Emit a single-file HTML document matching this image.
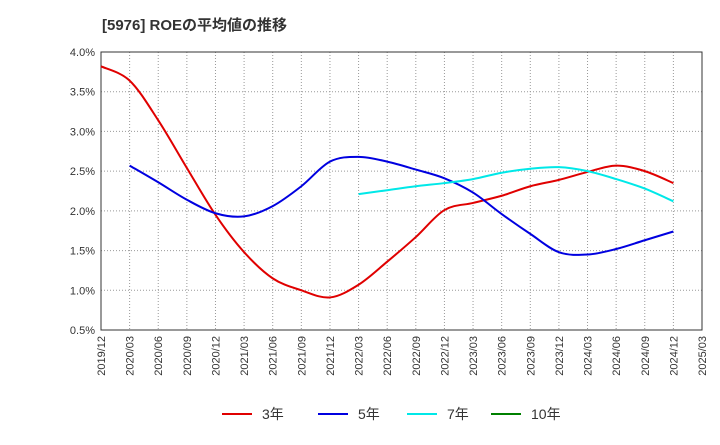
<!DOCTYPE html>
<html><head><meta charset="utf-8"><style>
body{margin:0;background:#fff;font-family:"Liberation Sans","Noto Sans CJK JP",sans-serif;}
svg text{font-family:"Liberation Sans","Noto Sans CJK JP",sans-serif;}
</style></head><body>
<svg id="c" width="720" height="440">
<text x="102" y="30" font-size="15" font-weight="bold" fill="#333">[5976]  ROEの平均値の推移</text>
<g id="grid"></g><g id="axes"></g><g id="series"></g><g id="legend"></g>
</svg>
<script>
const categories=["2019/12","2020/03","2020/06","2020/09","2020/12","2021/03","2021/06","2021/09","2021/12","2022/03","2022/06","2022/09","2022/12","2023/03","2023/06","2023/09","2023/12","2024/03","2024/06","2024/09","2024/12","2025/03"];
const yTicks=[0.5,1.0,1.5,2.0,2.5,3.0,3.5,4.0];
const s3=[3.82,3.64,3.14,2.54,1.95,1.48,1.15,1.0,0.91,1.07,1.36,1.67,2.01,2.10,2.19,2.31,2.39,2.49,2.57,2.50,2.35];
const s5=[null,2.57,2.36,2.14,1.97,1.93,2.06,2.31,2.62,2.68,2.62,2.52,2.41,2.23,1.96,1.71,1.48,1.45,1.52,1.63,1.74];
const s7=[null,null,null,null,null,null,null,null,null,2.21,2.26,2.31,2.35,2.40,2.48,2.53,2.55,2.50,2.40,2.28,2.12];
const s10=[];
const NS="http://www.w3.org/2000/svg";
const L=101,R=702,T=52,B=330;
const x=i=>L+(R-L)*i/(categories.length-1);
const y=v=>B-(v-0.5)/(4.0-0.5)*(B-T);
function mk(tag,attrs,parent){const e=document.createElementNS(NS,tag);for(const k in attrs)e.setAttribute(k,attrs[k]);parent.appendChild(e);return e;}
const grid=document.getElementById('grid'),axes=document.getElementById('axes'),ser=document.getElementById('series'),leg=document.getElementById('legend');
yTicks.forEach(v=>{
 const l=mk('line',{x1:L,x2:R,y1:y(v),y2:y(v),stroke:'#999','stroke-dasharray':'1,2'},grid);
 
 
 const t=mk('text',{x:L-6,y:y(v)+4,'text-anchor':'end','font-size':11,fill:'#333'},axes);
 t.textContent=v.toFixed(1)+'%';
 
 
});
categories.forEach((c,i)=>{
 const l=mk('line',{x1:x(i),x2:x(i),y1:T,y2:B,stroke:'#999','stroke-dasharray':'1,2'},grid);
 
 
 const t=mk('text',{x:0,y:0,'text-anchor':'end','font-size':11,fill:'#333',transform:`translate(${x(i)+4},${B+6}) rotate(-90)`},axes);
 t.textContent=c;
 
 
});
const fr=mk('rect',{x:L,y:T,width:R-L,height:B-T,fill:'none',stroke:'#333'},axes);


function path(data,color,name){
 const pts=[];data.forEach((v,i)=>{if(v!=null)pts.push([x(i),y(v)]);});
 if(pts.length<2)return;
 let d=`M${pts[0][0]},${pts[0][1]}`;
 for(let i=0;i<pts.length-1;i++){
  const p0=pts[Math.max(0,i-1)],p1=pts[i],p2=pts[i+1],p3=pts[Math.min(pts.length-1,i+2)];
  const c1=[p1[0]+(p2[0]-p0[0])/6,p1[1]+(p2[1]-p0[1])/6],c2=[p2[0]-(p3[0]-p1[0])/6,p2[1]-(p3[1]-p1[1])/6];
  d+=` C${c1[0]},${c1[1]} ${c2[0]},${c2[1]} ${p2[0]},${p2[1]}`;
 }
 const p=mk('path',{d,fill:'none',stroke:color,'stroke-width':2},ser);
 
 
}
path(s3,'#e00000','series-3yr');
path(s5,'#0000e0','series-5yr');
path(s7,'#00e8e8','series-7yr');
path(s10,'#008000','series-10yr');
[['3年','#e00000',222],['5年','#0000e0',318],['7年','#00e8e8',407],['10年','#008000',491]].forEach(([n,c,lx])=>{
 const g=mk('g',{},leg);
 
 
 mk('line',{x1:lx,x2:lx+30,y1:414,y2:414,stroke:c,'stroke-width':2},g);
 const t=mk('text',{x:lx+40,y:419,'font-size':14,fill:'#333'},g);t.textContent=n;
});
</script>
</body></html>
